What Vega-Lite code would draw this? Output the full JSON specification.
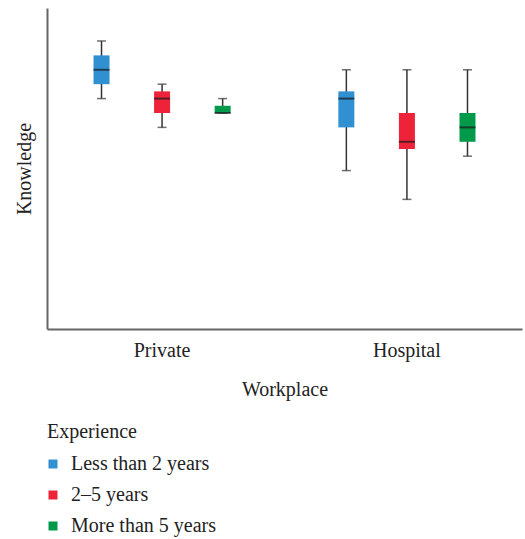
{
  "$schema": "https://vega.github.io/schema/vega-lite/v6.json",
  "autosize": {"type": "none"},
  "width": 475,
  "height": 321,
  "padding": {"left": 47, "top": 8, "right": 3, "bottom": 210},
  "background": "white",
  "config": {
    "font": "Liberation Serif",
    "view": {"stroke": null},
    "axis": {"grid": false, "domainColor": "#666666", "domainWidth": 2, "ticks": false, "labelFont": "Liberation Serif", "titleFont": "Liberation Serif", "labelFontSize": 20, "titleFontSize": 20, "titleFontWeight": "normal", "labelColor": "#222222", "titleColor": "#222222"},
    "legend": {"labelFont": "Liberation Serif", "titleFont": "Liberation Serif", "labelFontSize": 20, "titleFontSize": 20, "titleFontWeight": "normal", "labelColor": "#222222", "titleColor": "#222222", "padding": 0}
  },
  "data": {
    "values": [
      {"Workplace": "Private", "Experience": "Less than 2 years", "lower": 16, "q1": 17, "median": 18, "q3": 19, "upper": 20},
      {"Workplace": "Private", "Experience": "2–5 years", "lower": 14, "q1": 15, "median": 16, "q3": 16.5, "upper": 17},
      {"Workplace": "Private", "Experience": "More than 5 years", "lower": 15, "q1": 15, "median": 15, "q3": 15.5, "upper": 16},
      {"Workplace": "Hospital", "Experience": "Less than 2 years", "lower": 11, "q1": 14, "median": 16, "q3": 16.5, "upper": 18},
      {"Workplace": "Hospital", "Experience": "2–5 years", "lower": 9, "q1": 12.5, "median": 13, "q3": 15, "upper": 18},
      {"Workplace": "Hospital", "Experience": "More than 5 years", "lower": 12, "q1": 13, "median": 14, "q3": 15, "upper": 18}
    ]
  },
  "encoding": {
    "x": {"field": "Workplace", "type": "nominal", "sort": ["Private", "Hospital"], "scale": {"paddingInner": 0.06, "paddingOuter": 0},
      "axis": {"labelAngle": 0, "labelPadding": 11, "titlePadding": 19, "title": "Workplace"}},
    "xOffset": {"field": "Experience", "type": "nominal", "sort": ["Less than 2 years", "2–5 years", "More than 5 years"], "scale": {"paddingInner": 0, "paddingOuter": 0.4}}
  },
  "layer": [
    {
      "mark": {"type": "rule", "color": "#333333", "strokeWidth": 1.5},
      "encoding": {
        "y": {"field": "lower", "type": "quantitative", "scale": {"domain": [0, 22.29], "nice": false, "zero": true}, "axis": {"labels": false, "title": "Knowledge", "titlePadding": 13}},
        "y2": {"field": "upper"}
      }
    },
    {
      "mark": {"type": "tick", "color": "#333333", "thickness": 1.5, "size": 9, "orient": "horizontal"},
      "encoding": {"y": {"field": "lower", "type": "quantitative"}}
    },
    {
      "mark": {"type": "tick", "color": "#333333", "thickness": 1.5, "size": 9, "orient": "horizontal"},
      "encoding": {"y": {"field": "upper", "type": "quantitative"}}
    },
    {
      "mark": {"type": "bar", "size": 16},
      "encoding": {
        "y": {"field": "q1", "type": "quantitative"},
        "y2": {"field": "q3"},
        "color": {"field": "Experience", "type": "nominal", "sort": ["Less than 2 years", "2–5 years", "More than 5 years"],
          "scale": {"domain": ["Less than 2 years", "2–5 years", "More than 5 years"], "range": ["#3090D2", "#EE233A", "#009A4A"]},
          "legend": {"title": "Experience", "orient": "none", "legendX": 0, "legendY": 414, "direction": "vertical", "symbolType": "square", "symbolSize": 81, "symbolStrokeWidth": 0, "symbolOffset": -4, "labelOffset": 8, "rowPadding": 11, "titlePadding": 12}}
      }
    },
    {
      "mark": {"type": "tick", "color": "#1a1a1a", "thickness": 2, "size": 16, "orient": "horizontal"},
      "encoding": {"y": {"field": "median", "type": "quantitative"}}
    }
  ]
}
